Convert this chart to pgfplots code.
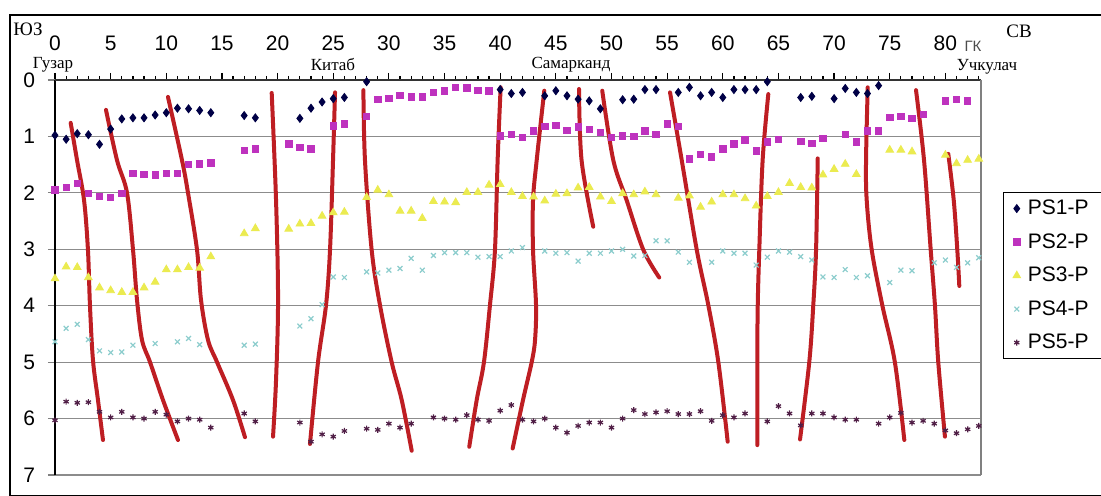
\documentclass[border=0pt]{standalone}
\usepackage{pgfplots}
\pgfplotsset{compat=1.18}
\usepackage{fontspec}
\setmainfont{Liberation Sans}
\newfontfamily\serif{Liberation Serif}
\definecolor{cA}{RGB}{0,0,70}
\definecolor{cB}{RGB}{190,50,190}
\definecolor{cC}{RGB}{235,235,80}
\definecolor{cD}{RGB}{140,205,205}
\definecolor{cE}{RGB}{80,30,70}
\definecolor{cR}{RGB}{190,30,35}
\newcommand{\PX}[2]{({(#1-55)*0.5pt},{(80-#2)*0.5pt})}
\pgfplotsset{redl/.style={forget plot, no marks, color=cR, line width=2pt, line cap=round, smooth, tension=0.55}}
\begin{document}
\begin{tikzpicture}
\useasboundingbox \PX{0}{0} rectangle \PX{1101}{496};
\clip \PX{0}{0} rectangle \PX{1101}{496};
\fill[white] \PX{0}{0} rectangle \PX{1101}{496};
\begin{axis}[
  at={(0,0)}, anchor=north west,
  scale only axis, width=463pt, height=197.5pt,
  xmin=0, xmax=83.2, ymin=0, ymax=7, y dir=reverse,
  clip=false,
  axis line style={draw=none},
  xtick={0,5,...,80}, minor xtick={1,...,83},
  ytick={0,...,7},
  tick align=outside,
  xtick pos=top, xticklabel pos=top,
  ytick pos=left, yticklabel pos=left,
  major tick length=3.5pt, minor tick length=2pt,
  xtick style={black, line width=0.6pt},
  ytick style={gray, line width=0.6pt},
  ymajorgrids=true,
  major grid style={gray!90, line width=0.6pt},
  /pgf/number format/assume math mode=true,
  tick label style={font=\fontsize{10.5}{12}\selectfont},
  xticklabel style={yshift=7.5pt},
  yticklabel style={xshift=-3pt},
  legend style={at={(1.0238,0.7165)}, anchor=north west, draw=black, line width=0.6pt,
    font=\fontsize{10.5}{12}\selectfont, inner sep=2pt, row sep=4.75pt,
    nodes={text height=8pt, text depth=2pt, inner sep=1pt}},
  legend cell align=left,
  legend image code/.code={\draw[#1] plot coordinates {(0.1cm,0cm)}; \path (-0.05cm,0cm) (0.25cm,0cm);},
]
\addplot[only marks, mark=diamond*, mark size=2pt, color=cA, line width=0.4pt] coordinates {
(0,0.98)(1,1.05)(2,0.95)(3,0.97)(4,1.14)(5,0.87)(6,0.69)(7,0.67)(8,0.67)(9,0.62)(10,0.58)(11,0.50)(12,0.51)(13,0.54)(14,0.58)(17,0.63)(18,0.67)(22,0.68)(23,0.50)(24,0.39)(25,0.33)(26,0.31)(28,0.03)(40,0.17)(41,0.24)(42,0.22)(44,0.28)(45,0.19)(46,0.28)(47,0.34)(48,0.37)(49,0.51)(51,0.35)(52,0.34)(53,0.17)(54,0.17)(56,0.22)(57,0.13)(58,0.28)(59,0.22)(60,0.31)(61,0.17)(62,0.17)(63,0.17)(64,0.03)(67,0.31)(68,0.29)(70,0.33)(71,0.15)(72,0.22)(73,0.24)(74,0.10)};
\addlegendentry{PS1-P\hphantom{PP}}
\addplot[only marks, mark=square*, mark size=1.6pt, color=cB, line width=0.4pt] coordinates {
(0,1.95)(1,1.90)(2,1.83)(3,2.01)(4,2.06)(5,2.08)(6,2.01)(7,1.65)(8,1.67)(9,1.68)(10,1.66)(11,1.66)(12,1.50)(13,1.49)(14,1.47)(17,1.25)(18,1.22)(21,1.13)(22,1.19)(23,1.22)(25,0.81)(26,0.78)(28,0.65)(29,0.34)(30,0.33)(31,0.27)(32,0.30)(33,0.30)(34,0.22)(35,0.19)(36,0.13)(37,0.14)(38,0.18)(39,0.19)(40,0.99)(41,0.96)(42,1.02)(43,0.90)(44,0.82)(45,0.80)(46,0.89)(47,0.83)(48,0.88)(49,0.93)(50,1.02)(51,0.99)(52,1.00)(53,0.90)(54,0.96)(55,0.78)(56,0.82)(57,1.40)(58,1.32)(59,1.36)(60,1.22)(61,1.13)(62,1.06)(63,1.26)(64,1.10)(65,1.05)(67,1.09)(68,1.12)(69,1.03)(71,0.96)(72,1.10)(73,0.90)(74,0.90)(75,0.66)(76,0.64)(77,0.68)(78,0.61)(80,0.37)(81,0.34)(82,0.37)};
\addlegendentry{PS2-P\hphantom{PP}}
\addplot[only marks, mark=triangle*, mark size=2.2pt, color=cC, line width=0.4pt] coordinates {
(0,3.52)(1,3.31)(2,3.32)(3,3.50)(4,3.68)(5,3.73)(6,3.76)(7,3.76)(8,3.68)(9,3.58)(10,3.36)(11,3.36)(12,3.32)(13,3.33)(14,3.13)(17,2.72)(18,2.63)(21,2.64)(22,2.55)(23,2.54)(24,2.41)(25,2.35)(26,2.34)(28,2.08)(29,1.95)(30,2.03)(31,2.32)(32,2.32)(33,2.45)(34,2.15)(35,2.16)(36,2.17)(37,1.99)(38,1.99)(39,1.86)(40,1.85)(41,1.99)(42,2.06)(43,2.07)(44,2.14)(45,2.02)(46,2.01)(47,1.91)(48,1.90)(49,2.07)(50,2.15)(51,2.01)(52,2.03)(53,1.98)(54,2.03)(56,2.09)(57,2.05)(58,2.25)(59,2.16)(60,2.03)(61,2.03)(62,2.10)(63,2.23)(64,2.06)(65,1.99)(66,1.83)(67,1.90)(68,1.91)(69,1.68)(70,1.58)(71,1.49)(72,1.67)(75,1.24)(76,1.24)(77,1.27)(80,1.33)(81,1.48)(82,1.42)(83,1.40)};
\addlegendentry{PS3-P\hphantom{PP}}
\addplot[only marks, mark=x, mark size=1.7pt, line width=0.6pt, color=cD] coordinates {
(0,4.64)(1,4.40)(2,4.33)(3,4.60)(4,4.80)(5,4.83)(6,4.82)(7,4.70)(9,4.67)(11,4.64)(12,4.58)(13,4.69)(17,4.70)(18,4.68)(22,4.36)(23,4.23)(24,3.98)(25,3.49)(26,3.50)(28,3.40)(29,3.42)(30,3.37)(31,3.34)(32,3.16)(33,3.37)(34,3.11)(35,3.06)(36,3.06)(37,3.06)(38,3.14)(39,3.13)(40,3.13)(41,3.03)(42,2.97)(44,3.03)(45,3.07)(46,3.06)(47,3.21)(48,3.07)(49,3.07)(50,3.03)(51,3.00)(52,3.12)(53,3.11)(54,2.85)(55,2.85)(56,3.05)(57,3.23)(59,3.23)(60,3.03)(61,3.07)(62,3.07)(63,3.28)(64,3.14)(65,3.03)(66,3.05)(67,3.13)(68,3.19)(69,3.49)(70,3.50)(71,3.36)(72,3.50)(73,3.47)(75,3.59)(76,3.37)(77,3.38)(79,3.24)(80,3.19)(81,3.32)(82,3.24)(83,3.15)};
\addlegendentry{PS4-P\hphantom{PP}}
\addplot[only marks, mark=asterisk, mark size=1.5pt, line width=0.6pt, color=cE] coordinates {
(0,6.03)(1,5.70)(2,5.72)(3,5.71)(4,5.88)(5,5.98)(6,5.88)(7,5.98)(8,6.00)(9,5.88)(10,5.93)(11,6.05)(12,6.00)(13,6.02)(14,6.16)(17,5.91)(18,6.05)(22,6.07)(23,6.41)(24,6.28)(25,6.32)(26,6.22)(28,6.18)(29,6.20)(30,6.09)(31,6.16)(32,6.09)(34,5.98)(35,6.00)(36,6.02)(37,5.94)(38,6.02)(39,6.04)(40,5.86)(41,5.76)(42,6.02)(43,6.05)(44,6.00)(45,6.16)(46,6.25)(47,6.13)(48,6.07)(49,6.07)(50,6.16)(51,6.00)(52,5.85)(53,5.92)(54,5.89)(55,5.87)(56,5.92)(57,5.92)(58,5.87)(59,6.04)(60,5.94)(61,5.98)(62,5.91)(64,6.05)(65,5.78)(66,5.91)(67,6.12)(68,5.91)(69,5.91)(70,5.98)(71,6.02)(72,6.02)(74,6.09)(75,5.98)(76,5.90)(77,6.07)(78,6.04)(79,6.09)(80,6.21)(81,6.26)(82,6.19)(83,6.13)};
\addlegendentry{PS5-P\hphantom{PP}}
\addplot[redl] coordinates {(1.41,0.76)(1.98,1.42)(2.61,2.13)(2.96,3.01)(3.14,3.99)(3.41,4.96)(3.86,5.67)(4.31,6.38)};
\addplot[redl] coordinates {(4.58,0.53)(5.57,1.42)(6.47,2.0)(7.01,3.01)(7.37,3.9)(7.82,4.61)(8.54,5.0)(9.7,5.67)(11.05,6.38)};
\addplot[redl] coordinates {(10.15,0.3)(11.41,1.42)(11.95,2.0)(12.76,3.01)(13.12,3.9)(13.75,4.61)(14.56,5.0)(15.99,5.67)(17.07,6.33)};
\addplot[redl] coordinates {(19.47,0.23)(19.86,2.13)(20.04,3.9)(19.86,5.32)(19.59,6.32)};
\addplot[redl] coordinates {(25.16,0.22)(24.98,1.42)(24.71,3.01)(24.35,3.99)(23.63,5.0)(22.91,6.45)};
\addplot[redl] coordinates {(27.71,0.18)(27.85,1.42)(28.45,3.01)(29.2,3.99)(30.25,5.0)(31.15,5.67)(32.05,6.57)};
\addplot[redl] coordinates {(40.04,0.13)(39.77,1.42)(39.53,3.01)(39.08,3.99)(38.54,5.0)(37.89,5.67)(37.22,6.5)};
\addplot[redl] coordinates {(43.96,0.19)(43.28,1.42)(42.95,2.13)(42.95,3.01)(43.22,3.99)(43.13,4.61)(42.83,5.0)(42.05,5.67)(41.12,6.53)};
\addplot[redl] coordinates {(47.08,0.16)(47.31,1.42)(48.36,2.6)};
\addplot[redl] coordinates {(49.17,0.19)(50.16,1.42)(51.36,2.13)(52.86,3.01)(54.29,3.5)};
\addplot[redl] coordinates {(55.26,0.22)(56.31,1.42)(57.66,3.01)(58.7,3.99)(59.6,5.0)(60.44,6.41)};
\addplot[redl] coordinates {(64.09,0.25)(63.58,1.42)(63.28,3.01)(63.14,3.99)(63.1,5.0)(63.1,6.47)};
\addplot[redl] coordinates {(68.53,1.39)(68.38,3.01)(68.13,3.99)(67.77,5.0)(66.94,6.37)};
\addplot[redl] coordinates {(73.02,0.13)(72.87,1.42)(72.93,2.13)(73.38,3.01)(74.33,3.99)(75.46,5.0)(76.31,6.38)};
\addplot[redl] coordinates {(77.36,0.18)(78.08,1.42)(78.68,3.01)(79.06,3.99)(79.36,5.0)(79.96,6.32)};
\addplot[redl] coordinates {(80.26,1.31)(80.75,2.13)(81.07,3.01)(81.25,3.65)};
\draw[black, line width=0.6pt] (axis cs:0,0) -- (axis cs:0,7);
\draw[black!80, line width=0.6pt] (axis cs:0,0) -- (axis cs:83.2,0);
\draw[gray, line width=0.6pt] (axis cs:83.2,0) -- (axis cs:83.2,7);
\end{axis}
\draw[line width=0.75pt] \PX{10}{15} rectangle \PX{1130}{495.5};
\node[font=\serif\fontsize{9.5}{11}\selectfont] at \PX{28}{29} {ЮЗ};
\node[font=\serif\fontsize{9.5}{11}\selectfont] at \PX{1019}{31} {СВ};
\node[font=\serif\fontsize{8.5}{10}\selectfont, inner sep=1pt] at \PX{53}{65} {Гузар};
\node[font=\serif\fontsize{8.5}{10}\selectfont, inner sep=1pt] at \PX{333}{65} {Китаб};
\node[font=\serif\fontsize{8.5}{10}\selectfont, inner sep=1pt] at \PX{571}{64.5} {Самарканд};
\node[font=\serif\fontsize{8.5}{10}\selectfont, inner sep=1pt] at \PX{987}{67} {Учкулач};
\node[font=\fontsize{7.5}{9}\selectfont, text=black!70, inner sep=1pt] at \PX{973}{46} {ГК};
\end{tikzpicture}
\end{document}
